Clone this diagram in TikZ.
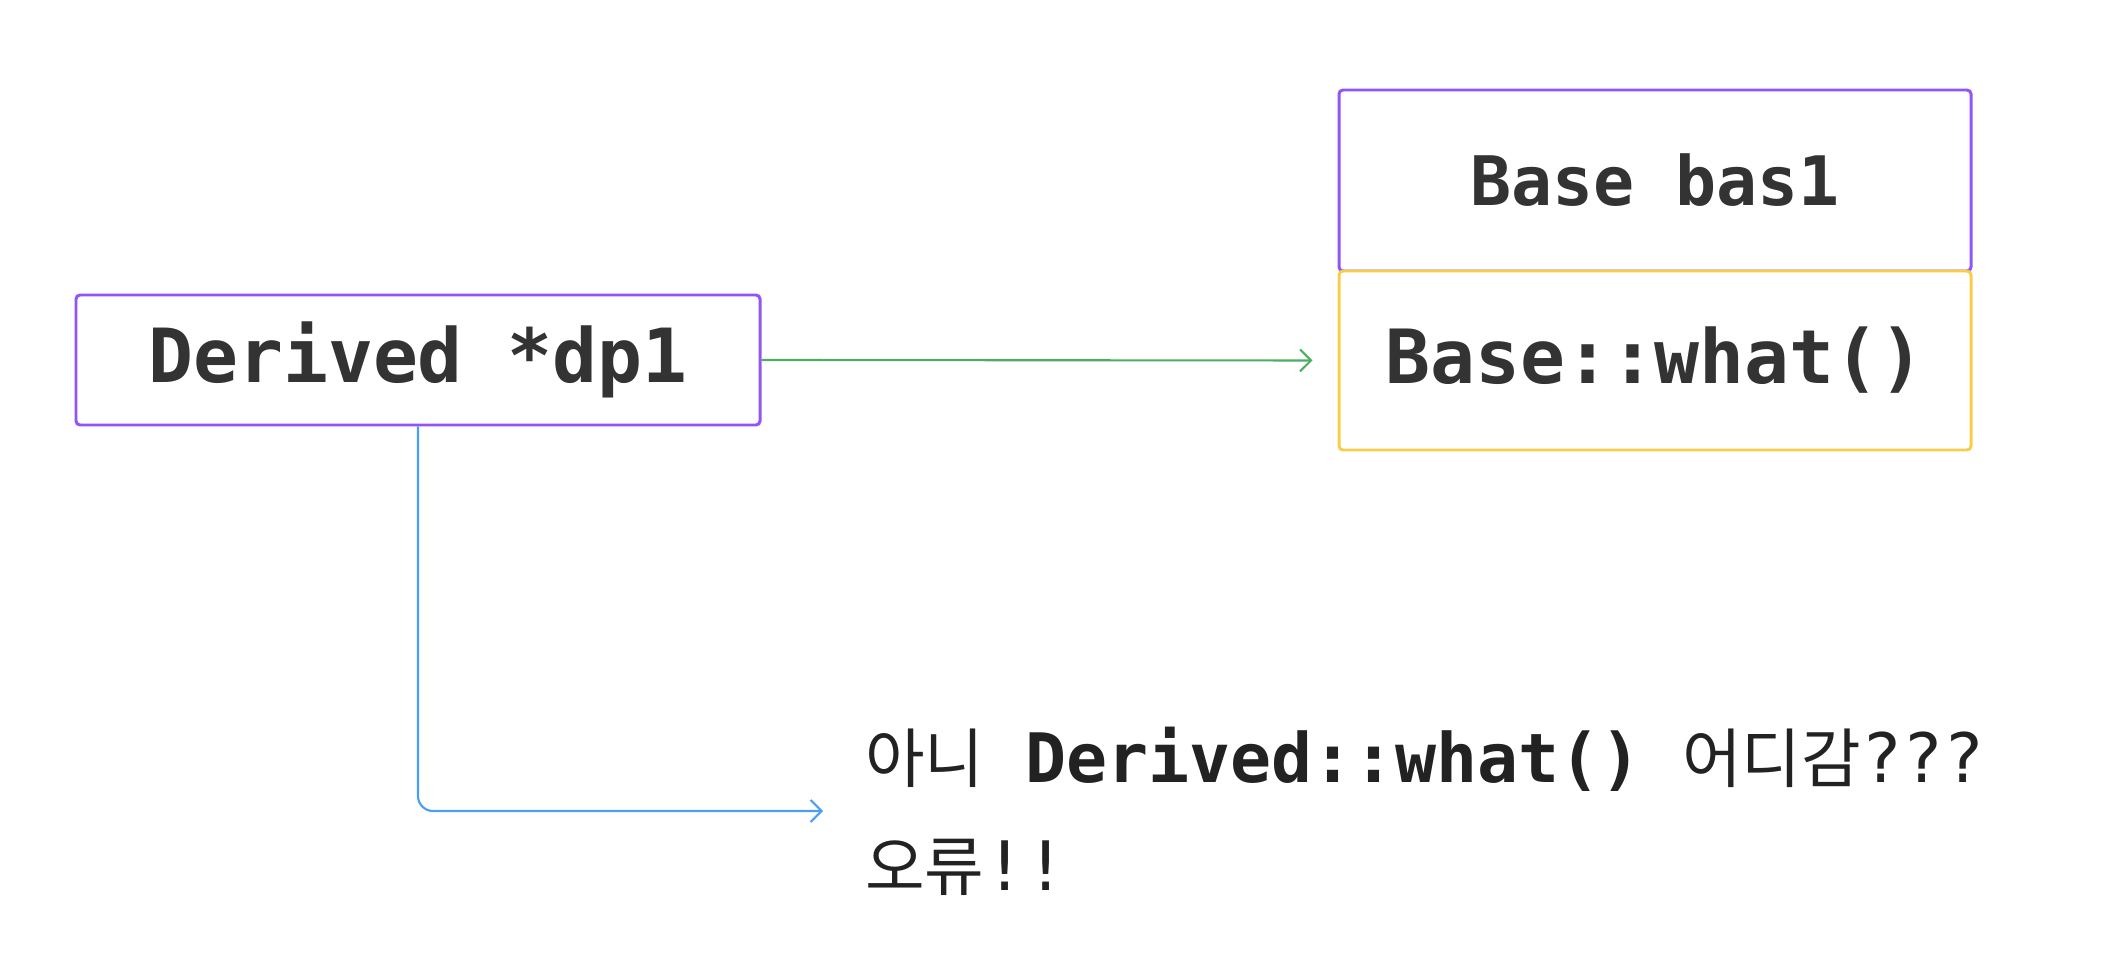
\documentclass[tikz,border=0pt]{standalone}
\usepackage{fontspec}
\setmainfont{DejaVu Sans}
\setmonofont{DejaVu Sans Mono}
\newfontfamily\krfont[Scale=0.95]{Noto Sans CJK KR}
\usepackage{tikz}
\usetikzlibrary{arrows.meta,positioning}

\definecolor{boxpurple}{RGB}{146,84,245}
\definecolor{boxyellow}{RGB}{247,206,74}
\definecolor{arrgreen}{RGB}{76,175,96}
\definecolor{arrblue}{RGB}{74,158,248}
\definecolor{txtgray}{RGB}{51,51,51}

\begin{document}
\begin{tikzpicture}[x=0.2mm, y=-0.2mm,
    classbox/.style={draw=#1, line width=1.7pt, rounded corners=0.8mm, fill=white,
        text=txtgray, font=\ttfamily\bfseries\fontsize{42.5}{50}\selectfont},
    ptrarrow/.style={line width=1.2pt, -{Straight Barb[length=2.2mm,width=4.4mm]}}]
    \useasboundingbox (0,0) rectangle (2102,964);

    % Pointer to derived object
    \node[classbox=boxpurple, minimum width=136.8mm, minimum height=26mm] (dp) at (418,360) {Derived *dp1};

    % Base part of the object
    \node[classbox=boxpurple, minimum width=126.4mm, minimum height=36.2mm,
        font=\ttfamily\bfseries\fontsize{38.8}{46}\selectfont] (bas) at (1655,180.5) {Base bas1};
    \node[classbox=boxyellow, minimum width=126.4mm, minimum height=35.8mm] (what) at (1655,360.5) {Base::what()};

    % Comment
    \node[anchor=west, inner sep=0pt, align=left, text={rgb,255:red,34;green,34;blue,34},
        font=\ttfamily\fontsize{38.8}{61.5}\selectfont] (note) at (865,811)
        {{\krfont 아니} {\bfseries Derived::what()} {\krfont 어디감}???\\{\krfont 오류}!!};

    % Arrows
    \draw[ptrarrow, arrgreen, shorten >=5mm] (dp.east) -- (what.west);
    \draw[ptrarrow, arrblue, rounded corners=3mm, shorten >=8.4mm] (dp.south) |- (note.west);

\end{tikzpicture}
\end{document}
